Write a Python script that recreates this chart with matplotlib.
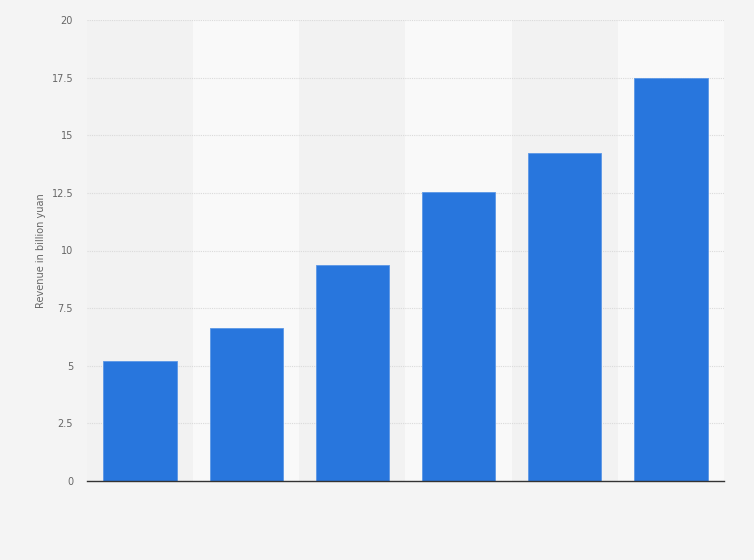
import numpy as np
import matplotlib.pyplot as plt

# bars, left to right (no category labels shown on the chart)
categories = ["1", "2", "3", "4", "5", "6"]
revenue = [5.19, 6.64, 9.35, 12.54, 14.23, 17.5]
yticks = [0, 2.5, 5, 7.5, 10, 12.5, 15, 17.5, 20]
ytick_labels = ["0", "2.5", "5", "7.5", "10", "12.5", "15", "17.5", "20"]

fig = plt.figure(figsize=(7.54, 5.6), dpi=100)
fig.patch.set_facecolor("#f4f4f4")
ax = fig.add_axes([87 / 754, 79 / 560, 637 / 754, 461 / 560])
ax.set_facecolor("none")

x = np.arange(len(categories))

# alternating column shading
for i in x:
    ax.axvspan(i - 0.5, i + 0.5, color="#f2f2f2" if i % 2 == 0 else "#f9f9f9",
               zorder=0, lw=0)

ax.bar(x, revenue, width=0.69, color="#2876dd", edgecolor="#5b97e6",
       linewidth=0.6, zorder=3)

ax.set_xlim(-0.5, len(categories) - 0.5)
ax.set_ylim(0, 20)
ax.set_yticks(yticks)
ax.set_yticklabels(ytick_labels)
ax.set_xticks(x)
ax.set_xticklabels([])
ax.tick_params(axis="x", length=0)
ax.tick_params(axis="y", length=0, pad=10, labelsize=7, labelcolor="#666666")

ax.grid(axis="y", color="#dadada", linestyle=(0, (1, 1)), linewidth=0.8, zorder=1)
ax.set_axisbelow(True)

for s in ["top", "right", "left"]:
    ax.spines[s].set_visible(False)
ax.spines["bottom"].set_color("#333333")
ax.spines["bottom"].set_linewidth(1.0)
ax.spines["bottom"].set_zorder(4)

ax.set_ylabel("Revenue in billion yuan", fontsize=7, color="#666666", labelpad=4)

fig.savefig("out.png", dpi=100, facecolor=fig.get_facecolor())
